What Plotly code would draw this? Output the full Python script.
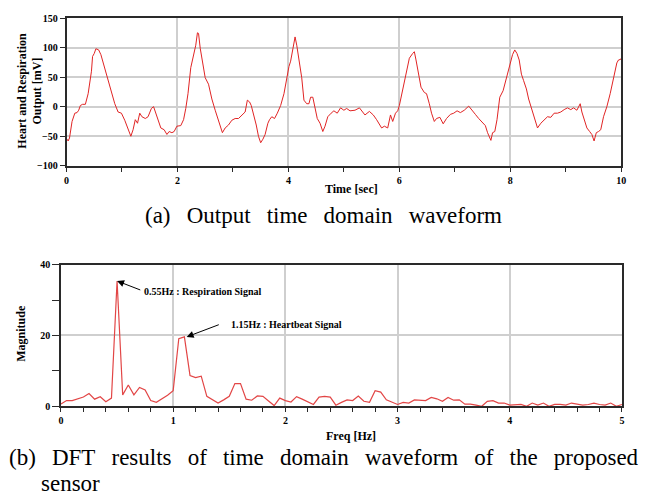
import plotly.graph_objects as go

W, H = 648, 504

# ---------------- data: (a) time domain waveform ----------------
time_sec = [0, 0.03, 0.054, 0.1, 0.15, 0.19, 0.22, 0.25, 0.29, 0.34, 0.39, 0.45, 0.47, 0.5, 0.53, 0.58,
            0.62, 0.66, 0.72, 0.78, 0.81, 0.87, 0.93, 0.99, 1.05, 1.11, 1.16, 1.2, 1.24, 1.28, 1.32, 1.36,
            1.42, 1.47, 1.53, 1.57, 1.6, 1.66, 1.7, 1.76, 1.81, 1.85, 1.9, 1.94, 1.99, 2.06, 2.11, 2.15,
            2.19, 2.24, 2.28, 2.33, 2.36, 2.38, 2.41, 2.46, 2.5, 2.56, 2.62, 2.68, 2.74, 2.81, 2.86, 2.92,
            2.98, 3.04, 3.1, 3.16, 3.22, 3.26, 3.3, 3.33, 3.38, 3.42, 3.46, 3.5, 3.54, 3.58, 3.63, 3.66,
            3.7, 3.75, 3.8, 3.86, 3.92, 3.97, 4.01, 4.04, 4.09, 4.12, 4.15, 4.19, 4.24, 4.28, 4.33, 4.37,
            4.4, 4.44, 4.47, 4.52, 4.57, 4.62, 4.66, 4.71, 4.77, 4.82, 4.88, 4.94, 5.0, 5.05, 5.11, 5.2,
            5.28, 5.32, 5.38, 5.46, 5.53, 5.59, 5.63, 5.68, 5.73, 5.79, 5.84, 5.88, 5.93, 5.97, 6.0, 6.06,
            6.12, 6.18, 6.24, 6.27, 6.3, 6.35, 6.39, 6.45, 6.49, 6.54, 6.58, 6.63, 6.67, 6.73, 6.79, 6.85,
            6.92, 6.98, 7.04, 7.1, 7.17, 7.25, 7.31, 7.37, 7.43, 7.49, 7.55, 7.59, 7.65, 7.68, 7.72, 7.76,
            7.81, 7.87, 7.93, 7.99, 8.04, 8.08, 8.12, 8.16, 8.2, 8.24, 8.29, 8.33, 8.39, 8.43, 8.49, 8.55,
            8.61, 8.67, 8.73, 8.79, 8.85, 8.91, 8.97, 9.03, 9.09, 9.14, 9.2, 9.26, 9.29, 9.34, 9.38, 9.43,
            9.47, 9.51, 9.55, 9.59, 9.63, 9.68, 9.74, 9.8, 9.86, 9.92, 9.95, 9.99, 10.0]
output_mv = [-54, -58, -53, -25, -11, -10, -6, 2, 4, 4, 22, 60, 85, 90, 98, 96,
             88, 74, 57, 33, 22, 5, -9, -11, -23, -39, -50, -39, -22, -28, -11, -17,
             -20, -17, -3, 0, -9, -25, -36, -39, -47, -42, -44, -42, -33, -32, -22, -3,
             22, 66, 82, 104, 125, 124, 99, 71, 49, 38, 13, -6, -25, -44, -36, -31,
             -23, -20, -20, -14, -9, 11, 8, 2, -14, -31, -50, -61, -55, -47, -28, -22,
             -17, -20, -11, 2, 22, 52, 68, 77, 104, 118, 104, 77, 49, 11, 5, 5,
             16, 16, 0, -20, -28, -42, -33, -17, -11, -7, -11, -2, -6, -3, -7, -6,
             -2, -7, -14, -8, -14, -22, -28, -36, -33, -36, -14, -25, -11, -7, 2, 30,
             60, 82, 90, 93, 79, 49, 33, 24, 22, 5, -11, -25, -20, -18, -29, -20,
             -13, -11, -7, -10, -6, 1, -7, -13, -20, -27, -32, -44, -57, -44, -42, -22,
             16, 27, 49, 71, 88, 96, 90, 79, 55, 44, 30, 13, -6, -20, -36, -28,
             -23, -17, -18, -11, -11, -9, -5, -2, -5, -2, -6, 5, -9, -22, -36, -42,
             -47, -58, -44, -42, -39, -17, 0, 22, 49, 74, 79, 80, 82]
assert len(time_sec) == len(output_mv)

# ---------------- data: (b) DFT magnitude ----------------
freq_step_hz = 0.05
dft_magnitude = [0.6, 1.6, 1.6, 2.0, 2.6, 3.6, 2.0, 2.7, 1.3, 2.3,
                 35.4, 3.2, 6.0, 3.2, 5.3, 4.6, 1.6, 1.1, 2.0, 3.1,
                 4.4, 19.1, 19.6, 8.7, 8.1, 8.5, 2.8, 1.9, 0.9, 1.8,
                 2.8, 6.4, 6.4, 2.0, 1.7, 2.9, 2.8, 1.5, 0.2, 2.3,
                 1.6, 1.2, 2.7, 2.0, 1.3, 0.5, 2.6, 2.8, 2.6, 0.3,
                 1.1, 1.8, 1.6, 2.9, 1.4, 1.1, 4.4, 4.0, 1.8, 1.1,
                 0.5, 1.1, 0.9, 1.8, 1.6, 1.6, 2.5, 2.1, 1.4, 2.5,
                 1.7, 1.8, 0.6, 0.6, 0.3, 0.0, 1.4, 1.6, 0.9, 0.9,
                 0.3, 0.3, 0.5, 0.0, 0.9, 0.3, 0.9, 0.0, 0.5, 0.5,
                 0.3, 0.9, 0.6, 0.3, 0.5, 0.9, 0.5, 0.3, 0.9, 0.0,
                 0.5]
freq_hz = [round(i * freq_step_hz, 2) for i in range(len(dft_magnitude))]

resp_peak = (0.5, 35.4)
heart_peak = (1.1, 19.6)
resp_label = "0.55Hz : Respiration Signal"
heart_label = "1.15Hz : Heartbeat Signal"

caption_a_words = ["(a)", "Output", "time", "domain", "waveform"]
caption_b1_words = ["(b)", "DFT", "results", "of", "time", "domain", "waveform", "of", "the", "proposed"]
caption_b2 = "sensor"

# ---------------- layout helpers ----------------
def px_x(p):
    return p / W

def px_y(p):
    return 1 - p / H

SERIF = "Liberation Serif, Times New Roman, serif"
tickfont = dict(family=SERIF, size=10, color="black", weight="bold")
AXLINE = "#2a2a2a"
GRID = "#cfcfcf"

fig = go.Figure()
fig.add_trace(go.Scatter(x=time_sec, y=output_mv, mode="lines",
                         line=dict(color="rgb(224,36,36)", width=1),
                         xaxis="x", yaxis="y", showlegend=False))
fig.add_trace(go.Scatter(x=freq_hz, y=dft_magnitude, mode="lines",
                         line=dict(color="rgb(226,70,70)", width=1.2),
                         xaxis="x2", yaxis="y2", showlegend=False))

common = dict(showline=True, linecolor=AXLINE, linewidth=1.5, mirror=True,
              ticks="outside", tickcolor=AXLINE, tickfont=tickfont,
              zeroline=False, showgrid=True, gridcolor=GRID, gridwidth=1.5)

fig.update_layout(
    width=W, height=H, margin=dict(l=0, r=0, t=0, b=0),
    paper_bgcolor="white", plot_bgcolor="white",
    xaxis=dict(domain=[px_x(64.3), px_x(626)], range=[0, 10], dtick=2, tick0=0,
               ticklen=4, anchor="y",
               minor=dict(dtick=1, ticks="outside", ticklen=4, tickcolor=AXLINE, showgrid=False),
               **common),
    yaxis=dict(domain=[px_y(163.7), px_y(12.3)], range=[-100, 150], dtick=50, tick0=0,
               ticklen=5, anchor="x", **common),
    xaxis2=dict(domain=[px_x(58.7), px_x(626.7)], range=[0, 5], dtick=1, tick0=0,
                ticklen=4, anchor="y2",
                minor=dict(dtick=0.2, ticks="outside", ticklen=4, tickcolor=AXLINE, showgrid=False),
                **common),
    yaxis2=dict(domain=[px_y(410), px_y(265)], range=[0, 40], dtick=20, tick0=0,
                ticklen=7, anchor="x2",
                minor=dict(dtick=10, ticks="outside", ticklen=7, tickcolor=AXLINE, showgrid=False),
                **common),
)

ann = []
title_font = dict(family=SERIF, size=12, color="black")
# axis titles (a)
ann.append(dict(text="<b>Time [sec]</b>", x=px_x(353), y=px_y(187), xref="paper", yref="paper",
                showarrow=False, font=title_font, xanchor="center", yanchor="middle"))
ann.append(dict(text="<b>Heart and Respiration</b>", x=px_x(19), y=px_y(87), xref="paper", yref="paper",
                showarrow=False, font=title_font, textangle=-90, xanchor="center", yanchor="middle"))
ann.append(dict(text="<b>Output [mV]</b>", x=px_x(34), y=px_y(87), xref="paper", yref="paper",
                showarrow=False, font=title_font, textangle=-90, xanchor="center", yanchor="middle"))
# axis titles (b)
ann.append(dict(text="<b>Freq [Hz]</b>", x=px_x(352), y=px_y(440), xref="paper", yref="paper",
                showarrow=False, font=title_font, xanchor="center", yanchor="middle"))
ann.append(dict(text="<b>Magnitude</b>", x=px_x(18), y=px_y(335), xref="paper", yref="paper",
                showarrow=False, font=title_font, textangle=-90, xanchor="center", yanchor="middle"))

# peak arrows and labels
lab_font = dict(family=SERIF, size=10, color="black")
ann.append(dict(x=resp_peak[0], y=resp_peak[1], xref="x2", yref="y2",
                ax=0.72, ay=32.7, axref="x2", ayref="y2", text="", showarrow=True,
                arrowhead=2, arrowsize=1.4, arrowwidth=1, arrowcolor="black"))
ann.append(dict(text="<b>" + resp_label + "</b>", x=0.72, y=32.3, xref="x2", yref="y2",
                showarrow=False, font=lab_font, xanchor="left", yanchor="middle"))
ann.append(dict(x=heart_peak[0] + 0.02, y=heart_peak[1], xref="x2", yref="y2",
                ax=1.42, ay=23.2, axref="x2", ayref="y2", text="", showarrow=True,
                arrowhead=2, arrowsize=1.4, arrowwidth=1, arrowcolor="black"))
ann.append(dict(text="<b>" + heart_label + "</b>", x=1.50, y=23.2, xref="x2", yref="y2",
                showarrow=False, font=lab_font, xanchor="left", yanchor="middle"))

# captions (justified-looking: wider inter-word gaps)
cap_font = dict(family=SERIF, size=23, color="black")
gap = "\u00a0\u00a0\u2009"
ann.append(dict(text=gap.join(caption_a_words), x=px_x(325), y=px_y(215), xref="paper", yref="paper",
                showarrow=False, font=cap_font, xanchor="center", yanchor="middle"))
ann.append(dict(text=gap.join(caption_b1_words), x=px_x(4), y=px_y(462), xref="paper", yref="paper",
                showarrow=False, font=cap_font, xanchor="left", yanchor="middle"))
ann.append(dict(text=caption_b2, x=px_x(68), y=px_y(489), xref="paper", yref="paper",
                showarrow=False, font=cap_font, xanchor="center", yanchor="middle"))

fig.update_layout(annotations=ann)
fig.write_html("out.html")
